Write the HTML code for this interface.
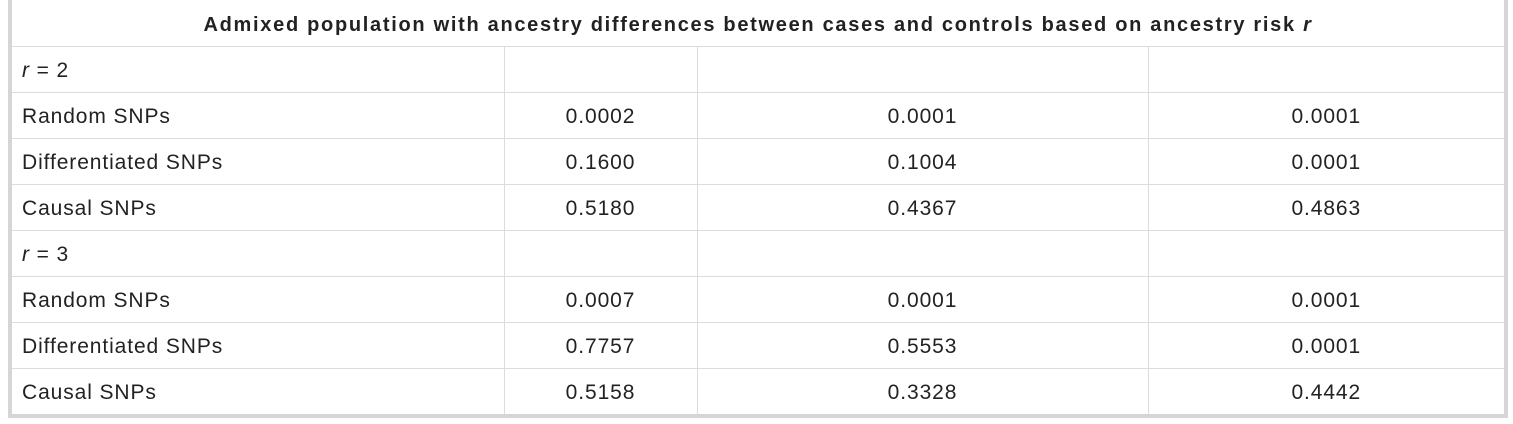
<!DOCTYPE html>
<html><head><meta charset="utf-8"><style>
body{margin:0;width:1513px;height:424px;background:#fff;overflow:hidden;font-family:"Liberation Sans",sans-serif;}
#frame{position:absolute;left:8px;top:-4px;width:1492px;height:414px;border:4px solid #d6d6d6;background:#fff;}
table{position:absolute;left:0;top:0;border-collapse:collapse;width:1492px;table-layout:fixed;}
td,th{height:42px;padding:3px 10px 0 10px;border-top:1px solid #dcdcdc;border-left:1px solid #dcdcdc;font-size:21px;letter-spacing:0.9px;color:#222;font-weight:normal;white-space:nowrap;}
tr:first-child th{border-top:none;height:42px;font-weight:bold;font-size:20px;letter-spacing:1.7px;text-align:center;padding-top:4px;padding-bottom:0;}
td:first-child,th:first-child{border-left:none;}
td.n{text-align:center;}
</style></head><body>
<div id="frame">
<table>
<colgroup><col style="width:492px"><col style="width:193px"><col style="width:451px"><col style="width:356px"></colgroup>
<tr><th colspan="4">Admixed population with ancestry differences between cases and controls based on ancestry risk <i>r</i></th></tr>
<tr><td><i>r</i> = 2</td><td></td><td></td><td></td></tr>
<tr><td>Random SNPs</td><td class="n">0.0002</td><td class="n">0.0001</td><td class="n">0.0001</td></tr>
<tr><td>Differentiated SNPs</td><td class="n">0.1600</td><td class="n">0.1004</td><td class="n">0.0001</td></tr>
<tr><td>Causal SNPs</td><td class="n">0.5180</td><td class="n">0.4367</td><td class="n">0.4863</td></tr>
<tr><td><i>r</i> = 3</td><td></td><td></td><td></td></tr>
<tr><td>Random SNPs</td><td class="n">0.0007</td><td class="n">0.0001</td><td class="n">0.0001</td></tr>
<tr><td>Differentiated SNPs</td><td class="n">0.7757</td><td class="n">0.5553</td><td class="n">0.0001</td></tr>
<tr><td>Causal SNPs</td><td class="n">0.5158</td><td class="n">0.3328</td><td class="n">0.4442</td></tr>
</table>
</div>
</body></html>
